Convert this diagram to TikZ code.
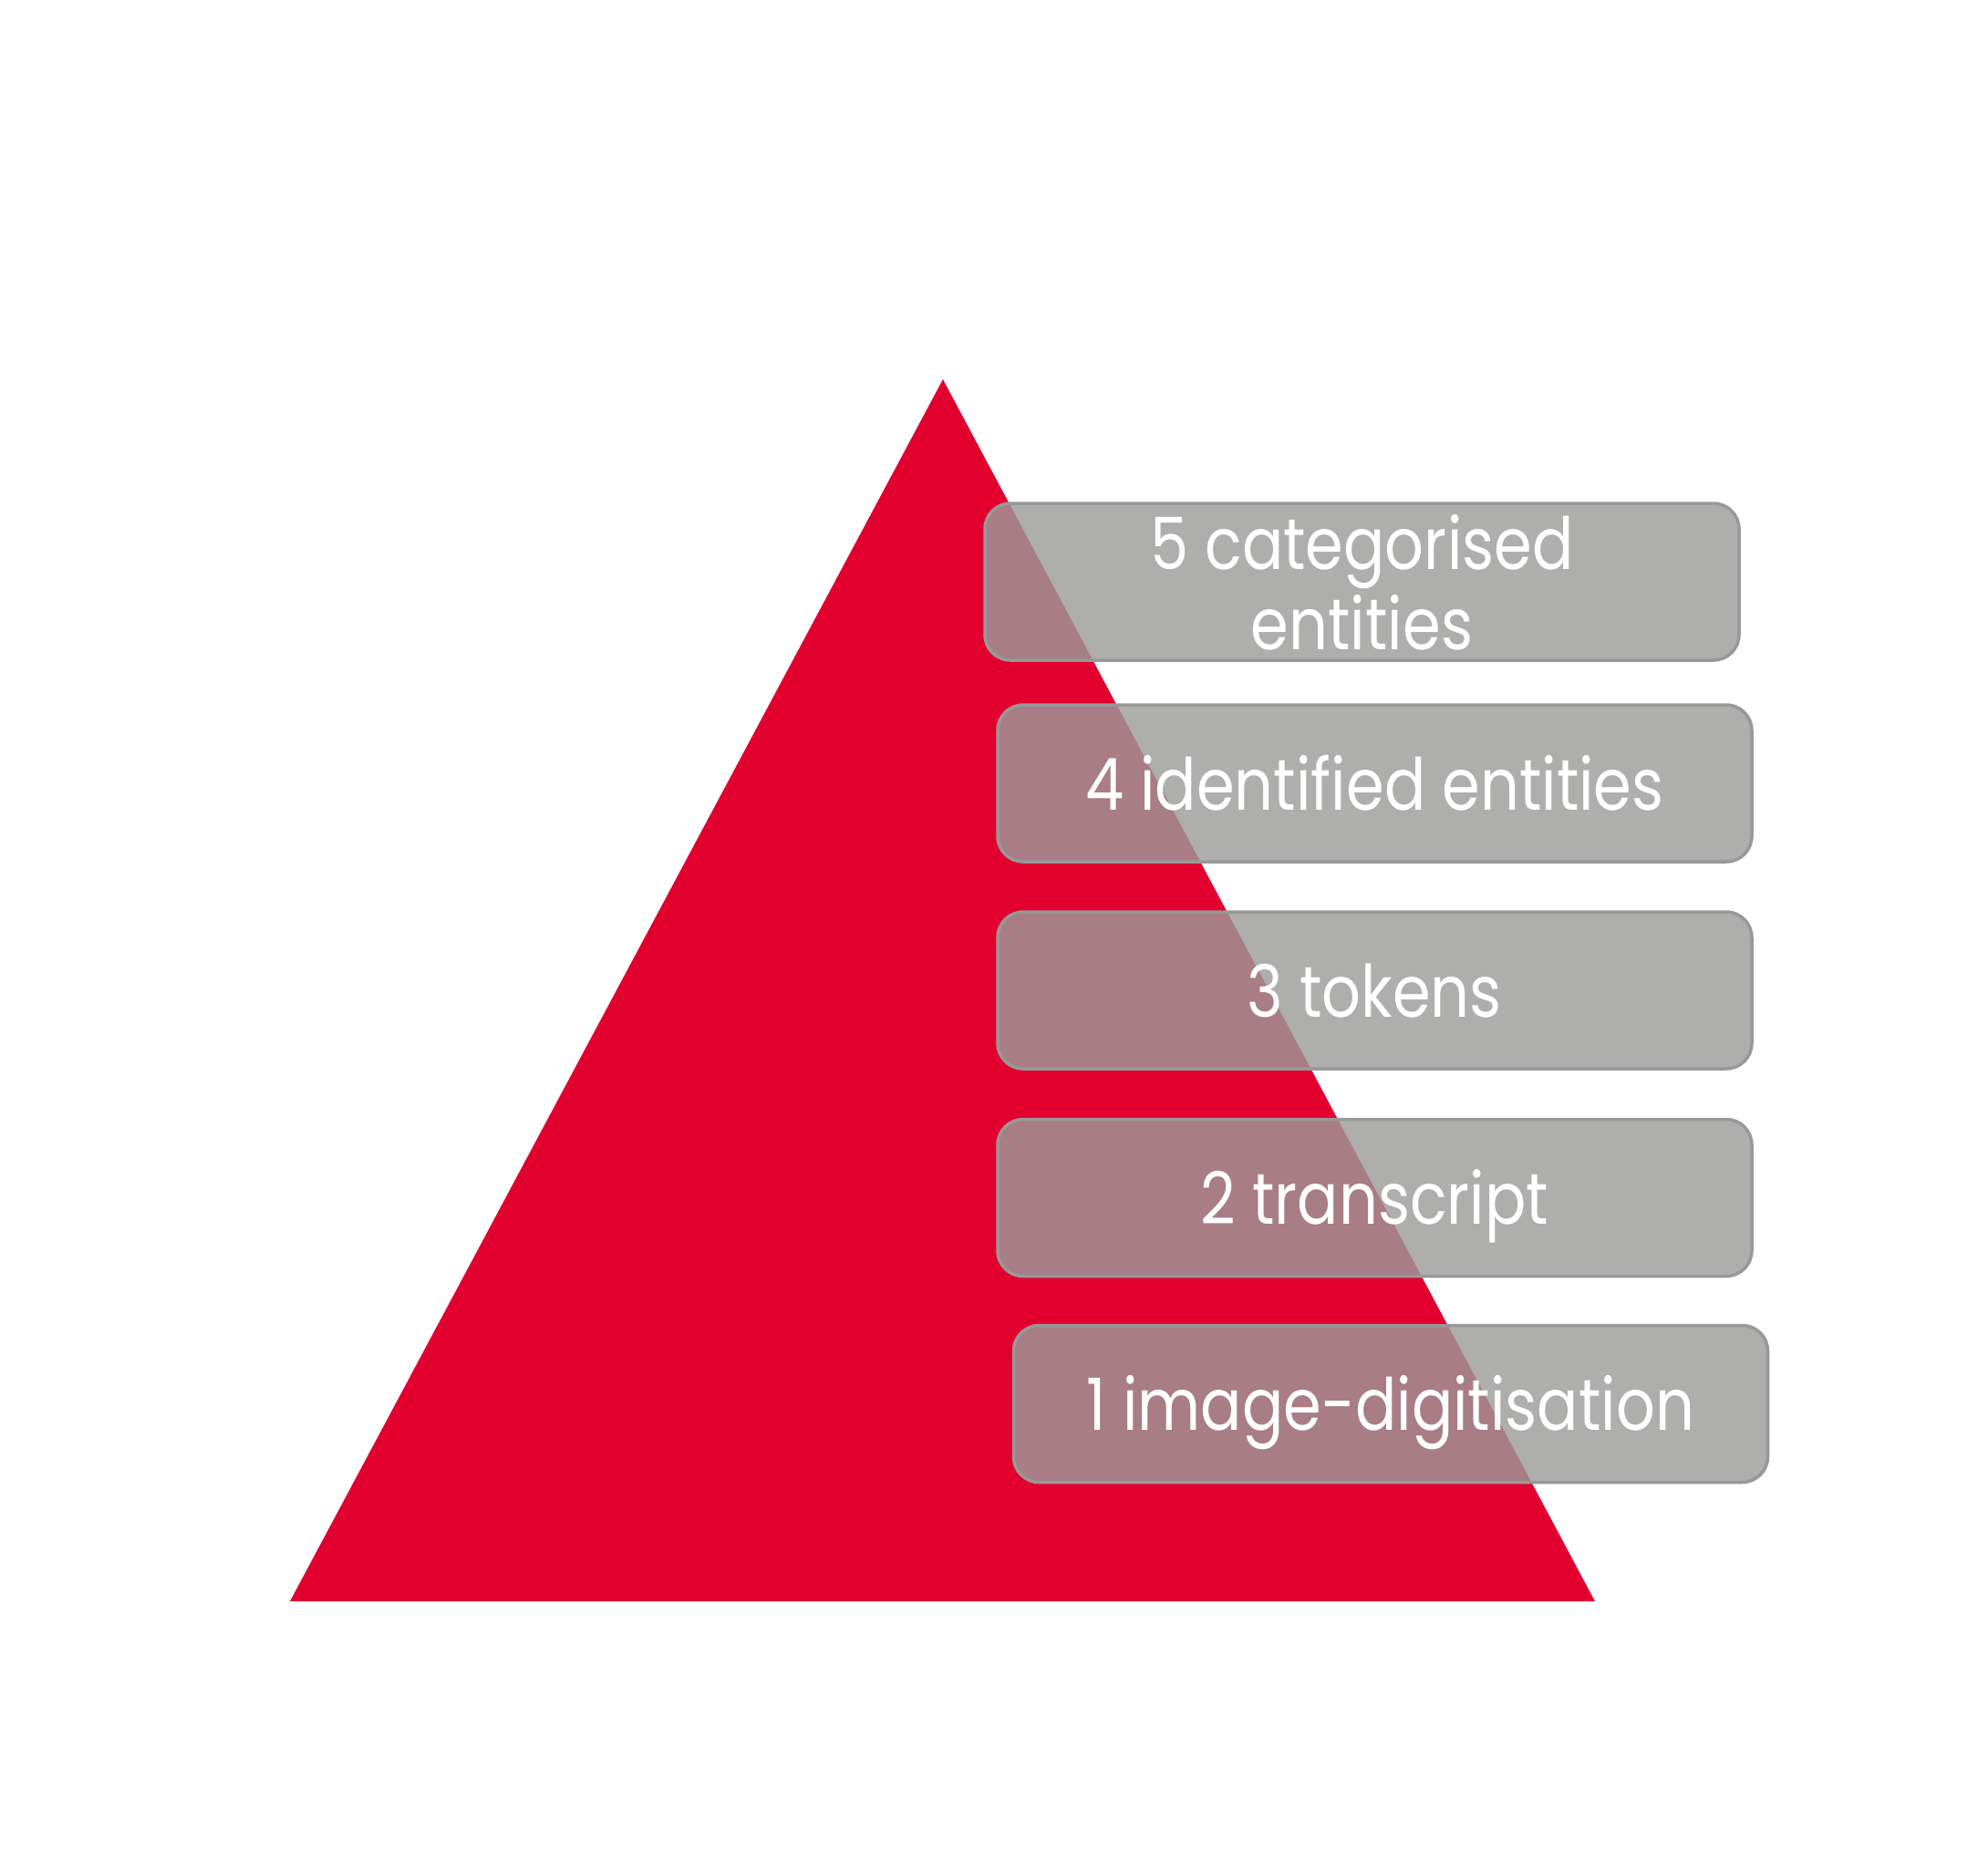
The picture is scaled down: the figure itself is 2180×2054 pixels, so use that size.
\documentclass[tikz,border=0pt]{standalone}
\usepackage{fontspec}
\setmainfont{Poppins}[FakeStretch=0.85]
\definecolor{pyrred}{RGB}{226,0,47}
\definecolor{boxfill}{RGB}{155,155,153}
\definecolor{boxline}{RGB}{152,152,152}
\begin{document}
\begin{tikzpicture}[x=1pt,y=-1pt,
  stage/.style={draw=boxline, line width=3.5pt,
    fill=boxfill, fill opacity=0.81,
    rounded corners=28pt, inner sep=0pt,
    minimum width=827pt, minimum height=172pt},
  stagetext/.style={text=white, font=\fontsize{79}{88}\selectfont,
    anchor=base, align=center, inner sep=0pt}]
  \useasboundingbox (0,0) rectangle (2180,2054);
  % pyramid
  \fill[pyrred] (1034,416) -- (1749,1756) -- (318,1756) -- cycle;
  % stage boxes
  \node[stage] (s5) at (1493.5,638) {};
  \node[stage] (s4) at (1507.5,859) {};
  \node[stage] (s3) at (1507.5,1086) {};
  \node[stage] (s2) at (1507.5,1313.5) {};
  \node[stage] (s1) at (1525,1539.5) {};
  % stage labels (base = last baseline)
  \node[stagetext, yshift=-74pt] (t5) at (s5.center) {5 categorised\\entities};
  \node[stagetext, yshift=-29pt] (t4) at (s4.center) {4 identified entities};
  \node[stagetext, yshift=-29pt] (t3) at (s3.center) {3 tokens};
  \node[stagetext, yshift=-29pt] (t2) at (s2.center) {2 transcript};
  \node[stagetext, yshift=-29pt] (t1) at (s1.center) {1 image-digitisation};
\end{tikzpicture}
\end{document}
